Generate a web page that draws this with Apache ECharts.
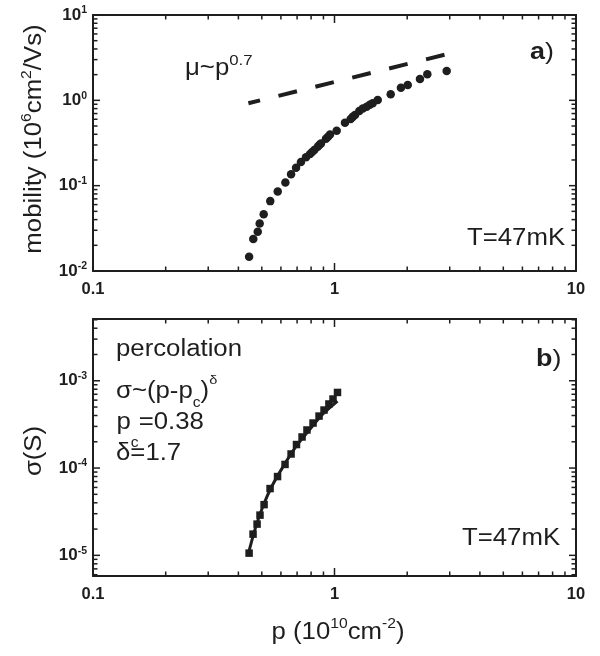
<!DOCTYPE html>
<html>
<head>
<meta charset="utf-8">
<script src="https://cdn.jsdelivr.net/npm/echarts@6/dist/echarts.min.js"></script>
<style>
  html, body { margin: 0; padding: 0; background: #fff; }
  #chart { width: 600px; height: 656px; }
</style>
</head>
<body>
<div id="chart"></div>
<script>
// panel a: mobility vs density
const mobP = [0.443, 0.461, 0.481, 0.490, 0.509, 0.542, 0.582, 0.626, 0.661, 0.693, 0.726, 0.762, 0.792, 0.808, 0.825, 0.852, 0.865, 0.879, 0.922, 0.940, 0.958, 1.021, 1.105, 1.167, 1.190, 1.216, 1.267, 1.310, 1.359, 1.400, 1.439, 1.510, 1.709, 1.884, 2.010, 2.259, 2.423, 2.915];
const mobMu = [0.0147, 0.0237, 0.0288, 0.0361, 0.0461, 0.0659, 0.0857, 0.109, 0.136, 0.162, 0.189, 0.215, 0.235, 0.248, 0.261, 0.286, 0.300, 0.313, 0.355, 0.375, 0.399, 0.441, 0.546, 0.604, 0.640, 0.673, 0.750, 0.800, 0.842, 0.885, 0.922, 1.01, 1.175, 1.406, 1.51, 1.78, 2.02, 2.21];
// dashed guide mu ~ p^0.7, end points
const guideP = [0.44, 2.94];
const guideMu = [0.923, 3.49];

// panel b: conductivity and percolation fit
const sigP = [0.443, 0.460, 0.478, 0.4915, 0.511, 0.541, 0.581, 0.624, 0.661, 0.696, 0.734, 0.769, 0.815, 0.863, 0.905, 0.948, 0.986, 1.029];
const sigS = [1.06e-5, 1.75e-5, 2.28e-5, 2.89e-5, 3.81e-5, 5.82e-5, 7.99e-5, 1.10e-4, 1.45e-4, 1.86e-4, 2.27e-4, 2.73e-4, 3.28e-4, 3.94e-4, 4.62e-4, 5.42e-4, 6.18e-4, 7.35e-4];
const fitP = [0.438, 0.469, 0.506, 0.551, 0.618, 0.700, 0.792, 0.895, 1.029];
const fitS = [1.0e-5, 2.0e-5, 3.67e-5, 6.22e-5, 1.08e-4, 1.84e-4, 2.80e-4, 4.16e-4, 5.86e-4];

// ticks
const xMajor = [0.1, 1, 10];
const xMajorText = ['0.1', '1', '10'];
const xMinor = [0.2, 0.3, 0.4, 0.5, 0.6, 0.7, 0.8, 0.9, 2, 3, 4, 5, 6, 7, 8, 9];
const yMajorA = [0.01, 0.1, 1, 10];
const yMinorA = [0.02, 0.03, 0.04, 0.05, 0.06, 0.07, 0.08, 0.09, 0.2, 0.3, 0.4, 0.5, 0.6, 0.7, 0.8, 0.9, 2, 3, 4, 5, 6, 7, 8, 9];
const yMajorB = [1e-5, 1e-4, 1e-3];
const yMinorB = [6e-6, 7e-6, 8e-6, 9e-6, 2e-5, 3e-5, 4e-5, 5e-5, 6e-5, 7e-5, 8e-5, 9e-5, 2e-4, 3e-4, 4e-4, 5e-4, 6e-4, 7e-4, 8e-4, 9e-4, 2e-3, 3e-3, 4e-3, 5e-3];

const font = '"Liberation Sans", Arial, sans-serif';
const ink = '#1e1e1e';
const xRange = [0.1, 10];
const yRangeA = [0.01, 10];
const yRangeB = [5.8e-6, 5.1e-3];

const chart = echarts.init(document.getElementById('chart'));

function expOf(v) { return Math.round(Math.log10(v)); }

function axis(g, pos, range, labels) {
  return {
    type: 'log', logBase: 10, gridIndex: g, position: pos, min: range[0], max: range[1],
    axisLine: { show: true, onZero: false, lineStyle: { color: ink, width: 2 } },
    axisTick: { show: false },
    axisLabel: labels || { show: false },
    splitLine: { show: false }
  };
}

const xLabels = {
  show: true, customValues: xMajor, margin: 10,
  fontFamily: font, fontWeight: 'bold', fontSize: 16.5, color: ink,
  formatter: v => xMajorText[expOf(v) + 1]
};
function yLabels(vals) {
  return {
    show: true, customValues: vals, margin: 6,
    formatter: v => '{b|10}{s|' + expOf(v) + '}',
    rich: {
      b: { fontFamily: font, fontWeight: 'bold', fontSize: 17, lineHeight: 20, color: ink },
      s: { fontFamily: font, fontWeight: 'bold', fontSize: 10.5, lineHeight: 10, verticalAlign: 'top', color: ink }
    }
  };
}

const xAxis = [
  axis(0, 'bottom', xRange, xLabels), axis(0, 'top', xRange),
  axis(1, 'bottom', xRange, xLabels), axis(1, 'top', xRange)
];
const yAxis = [
  axis(0, 'left', yRangeA, yLabels(yMajorA)), axis(0, 'right', yRangeA),
  axis(1, 'left', yRangeB, yLabels(yMajorB)), axis(1, 'right', yRangeB)
];

// inward ticks on all four sides: thin rect symbols placed by the axis scales
const tw = 1.5;
function tickItems(yr, yMajor, yMinor) {
  const d = [];
  function xt(v, len) {
    d.push({ value: [v, yr[0]], symbolSize: [tw, len], symbolOffset: [0, -len / 2] });
    d.push({ value: [v, yr[1]], symbolSize: [tw, len], symbolOffset: [0, len / 2] });
  }
  function yt(v, len) {
    d.push({ value: [xRange[0], v], symbolSize: [len, tw], symbolOffset: [len / 2, 0] });
    d.push({ value: [xRange[1], v], symbolSize: [len, tw], symbolOffset: [-len / 2, 0] });
  }
  xMajor.forEach(v => xt(v, 8));
  xMinor.forEach(v => xt(v, 4.5));
  yMajor.forEach(v => yt(v, 7));
  yMinor.forEach(v => yt(v, 4.5));
  return d;
}

function pairs(xs, ys) { return xs.map((x, i) => [x, ys[i]]); }

// text helpers
const base = { fontFamily: font, fontSize: 23, fill: ink };
function tok(size, lh, va, weight) {
  return { fontFamily: font, fontSize: size, lineHeight: lh, verticalAlign: va, fontWeight: weight || 'normal', fill: ink };
}
function note(x, y, text, rich, extra, align) {
  const style = Object.assign({ text: text, x: 0, y: 0, align: align || 'left', verticalAlign: 'middle' }, base);
  if (rich) style.rich = rich;
  return Object.assign({ type: 'text', x: x, y: y, scaleX: 1.12, silent: true, style: style }, extra || {});
}

const graphic = [
  // axis titles
  note(35, 139, '{t|mobility (10}{s|6}{t|cm}{s|2}{t|/Vs)}',
    { t: tok(23, 30, 'middle'), s: tok(14, 14, 'top') }, { rotation: Math.PI / 2 }, 'center'),
  note(35, 451, 'σ(S)', null, { rotation: Math.PI / 2 }, 'center'),
  note(338, 632.5, '{t|p (10}{s|10}{t|cm}{s|-2}{t|)}',
    { t: tok(23, 30, 'middle'), s: tok(14, 14, 'top') }, null, 'center'),
  // panel a annotations
  note(185, 69, '{t|μ~p}{s|0.7}', { t: tok(23, 32, 'middle'), s: tok(15, 15, 'top') }),
  note(530, 52, '{b|a}{t|)}', { b: tok(24, 30, 'middle', 'bold'), t: tok(24, 30, 'middle') }),
  note(467, 238.5, 'T=47mK'),
  // panel b annotations
  note(536, 359.5, '{b|b}{t|)}', { b: tok(24, 30, 'middle', 'bold'), t: tok(24, 30, 'middle') }),
  note(462, 539, 'T=47mK'),
  note(116, 350, 'percolation'),
  note(116, 392, '{t|σ~(p-p}{d|c}{t|)}{u|δ}',
    { t: tok(23, 36, 'middle'), d: tok(14, 14, 'bottom'), u: tok(13, 14, 'top') }),
  note(116.5, 422.5, '{t|p}{d|c}{t|=0.38}',
    { t: tok(23, 56, 'middle'), d: tok(14, 13, 'bottom') }),
  note(116, 453.5, 'δ=1.7')
];

const option = {
  animation: false,
  backgroundColor: '#fff',
  grid: [
    { left: 93, top: 15, width: 483, height: 256 },
    { left: 93, top: 319, width: 483, height: 257 }
  ],
  xAxis: xAxis,
  yAxis: yAxis,
  graphic: graphic,
  series: [
    {
      type: 'scatter', xAxisIndex: 0, yAxisIndex: 0, silent: true, clip: false,
      symbol: 'rect', data: tickItems(yRangeA, yMajorA, yMinorA),
      itemStyle: { color: ink, opacity: 1 }
    },
    {
      type: 'scatter', xAxisIndex: 2, yAxisIndex: 2, silent: true, clip: false,
      symbol: 'rect', data: tickItems(yRangeB, yMajorB, yMinorB),
      itemStyle: { color: ink, opacity: 1 }
    },
    {
      type: 'line', xAxisIndex: 0, yAxisIndex: 0,
      data: pairs(guideP, guideMu), symbol: 'none',
      lineStyle: { color: ink, width: 4, type: [19, 19], dashOffset: 7 }
    },
    {
      type: 'scatter', xAxisIndex: 0, yAxisIndex: 0,
      data: pairs(mobP, mobMu), symbol: 'circle', symbolSize: 8.5,
      itemStyle: { color: ink, opacity: 1 }
    },
    {
      type: 'line', xAxisIndex: 2, yAxisIndex: 2,
      data: pairs(fitP, fitS), symbol: 'none', smooth: 0.3,
      lineStyle: { color: ink, width: 3 }
    },
    {
      type: 'scatter', xAxisIndex: 2, yAxisIndex: 2,
      data: pairs(sigP, sigS), symbol: 'rect', symbolSize: 7.5,
      itemStyle: { color: ink, opacity: 1 }
    }
  ]
};

chart.setOption(option);
</script>
</body>
</html>
